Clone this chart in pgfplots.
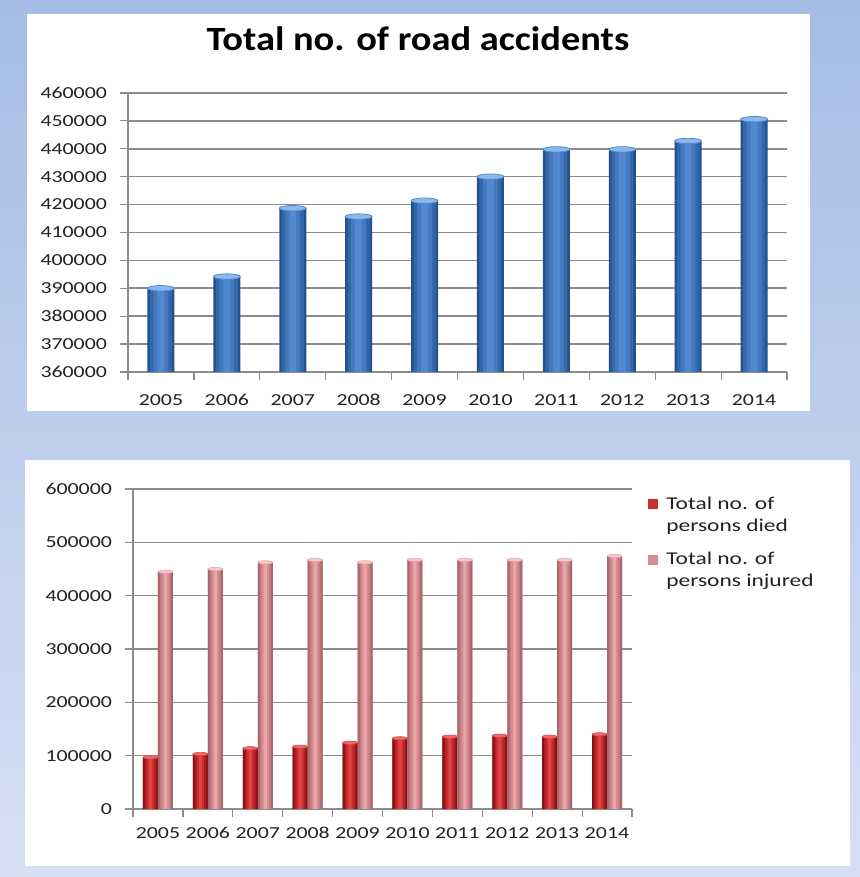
\documentclass[border=0pt]{standalone}
\usepackage{fontspec}
\setmainfont{Carlito}[FakeStretch=1.3]
\newfontfamily\titlefont{Carlito}[FakeStretch=1.13]
\usepackage{pgfplots}
\pgfplotsset{compat=1.18}
\usepackage{pgfplotstable}

\definecolor{bgA}{HTML}{A6BCE5}
\definecolor{bgB}{HTML}{D6E0F4}
\definecolor{gridc}{HTML}{8C8C8C}
\definecolor{blueA}{HTML}{24528F}
\definecolor{blueB}{HTML}{3467AA}
\definecolor{blueC}{HTML}{4479C0}
\definecolor{blueD}{HTML}{5289CE}
\definecolor{bluecap}{HTML}{8DB8EC}
\definecolor{redA}{HTML}{861216}
\definecolor{redB}{HTML}{AE1E22}
\definecolor{redC}{HTML}{CC2E30}
\definecolor{redD}{HTML}{DE4446}
\definecolor{redcap}{HTML}{E86A6C}
\definecolor{pinkA}{HTML}{A8676D}
\definecolor{pinkB}{HTML}{C27B80}
\definecolor{pinkC}{HTML}{D88E91}
\definecolor{pinkD}{HTML}{E8A5A7}
\definecolor{pinkcap}{HTML}{F5CACB}
\definecolor{txt}{HTML}{222222}

\pgfplotstableread{
x total
0 390000
1 394200
2 418700
3 415700
4 421400
5 430000
6 439800
7 439800
8 442800
9 450600
}\accidents

\pgfplotstableread{
x died injured
0 96900 445000
1 103100 450000
2 113800 462500
3 116800 467000
4 124300 462500
5 132500 467000
6 135600 467000
7 137400 467000
8 135600 467000
9 140000 474400
}\persons

\pgfplotsset{
  common/.style={
    scale only axis,
    xmin=-0.5, xmax=9.5,
    xtick={0,...,9},
    xticklabels={2005,2006,2007,2008,2009,2010,2011,2012,2013,2014},
    minor xtick={-0.5,0.5,...,9.5},
    axis x line*=bottom, axis y line*=left,
    axis line style={-, gridc, line width=0.8pt},
    ymajorgrids, grid style={gridc, line width=0.8pt},
    tick align=outside, major tick length=4pt, minor tick length=4pt,
    major x tick style={draw=none},
    tick style={gridc, line width=0.6pt},
    scaled y ticks=false,
    yticklabel style={/pgf/number format/fixed, /pgf/number format/1000 sep={}, xshift=-3pt},
    /pgf/number format/assume math mode=true,
    tick label style={font=\fontsize{8.4}{10}\selectfont, text=txt},
    clip=true,
  },
  barlayer/.style n args={3}{ybar, draw=none, fill=#1, bar width=#2, bar shift=#3},
}

\begin{document}
\begin{tikzpicture}
\useasboundingbox (0,0) rectangle (430pt,438.5pt);
\shade[top color=bgA, bottom color=bgB] (0,0) rectangle (430pt,438.5pt);
\fill[white] (13.5pt,233pt) rectangle (405pt,431.5pt);
\fill[white] (12.5pt,5.5pt) rectangle (425pt,208.5pt);

\begin{axis}[common,
  at={(64pt,252.5pt)}, anchor=south west,
  width=329.5pt, height=139.5pt,
  ymin=360000, ymax=460000, ytick distance=10000,
  xticklabel style={yshift=-3pt, text height=6pt, text depth=0pt},
  title={Total no. of road accidents},
  title style={at={(0.44,1.111)}, anchor=base, font=\titlefont\bfseries\fontsize{17}{20}\selectfont, text=black},
]
\addplot[barlayer={blueA}{13.5pt}{0pt}] table[x=x, y=total] {\accidents};
\addplot[barlayer={blueB}{11pt}{0pt}] table[x=x, y=total] {\accidents};
\addplot[barlayer={blueC}{7.5pt}{0pt}] table[x=x, y=total] {\accidents};
\addplot[barlayer={blueD}{3.5pt}{0pt}] table[x=x, y=total] {\accidents};
\addplot[only marks, mark=*, mark size=6.75pt,
  mark options={fill=bluecap, draw=blueD, line width=0.4pt, yscale=0.2}]
  table[x=x, y=total] {\accidents};
\end{axis}

\begin{axis}[common,
  at={(66.5pt,34pt)}, anchor=south west,
  width=249.5pt, height=160pt,
  ymin=0, ymax=600000, ytick distance=100000,
  xticklabel style={yshift=-1pt, text height=6pt, text depth=0pt},
  legend style={at={(1.032,0.99)}, anchor=north west, draw=none, fill=none,
    font=\fontsize{9}{11}\selectfont, text=txt, cells={align=left}, row sep=5pt, inner sep=0pt},
  legend cell align=left,
  legend image code/.code={\fill[#1] (0pt,3pt) rectangle (5pt,8pt); \path (7pt,0pt);},
]
\addplot[barlayer={redC}{7.5pt}{-3.75pt}] table[x=x, y=died] {\persons};
\addlegendentry{Total no. of\\persons died}
\addplot[barlayer={pinkC}{7.5pt}{3.75pt}] table[x=x, y=injured] {\persons};
\addlegendentry{Total no. of\\persons injured}
\addplot[barlayer={redA}{7.5pt}{-3.75pt}, forget plot] table[x=x, y=died] {\persons};
\addplot[barlayer={redB}{5.5pt}{-3.75pt}, forget plot] table[x=x, y=died] {\persons};
\addplot[barlayer={redC}{3.6pt}{-3.75pt}, forget plot] table[x=x, y=died] {\persons};
\addplot[barlayer={redD}{1.6pt}{-3.75pt}, forget plot] table[x=x, y=died] {\persons};
\addplot[barlayer={pinkA}{7.5pt}{3.75pt}, forget plot] table[x=x, y=injured] {\persons};
\addplot[barlayer={pinkB}{5.5pt}{3.75pt}, forget plot] table[x=x, y=injured] {\persons};
\addplot[barlayer={pinkC}{3.6pt}{3.75pt}, forget plot] table[x=x, y=injured] {\persons};
\addplot[barlayer={pinkD}{1.6pt}{3.75pt}, forget plot] table[x=x, y=injured] {\persons};
\addplot[only marks, mark=*, mark size=3.75pt, forget plot,
  mark options={fill=redcap, draw=redD, line width=0.3pt, yscale=0.22, xshift=-3.75pt}]
  table[x=x, y=died] {\persons};
\addplot[only marks, mark=*, mark size=3.75pt, forget plot,
  mark options={fill=pinkcap, draw=pinkD, line width=0.3pt, yscale=0.22, xshift=3.75pt}]
  table[x=x, y=injured] {\persons};
\end{axis}
\end{tikzpicture}
\end{document}
